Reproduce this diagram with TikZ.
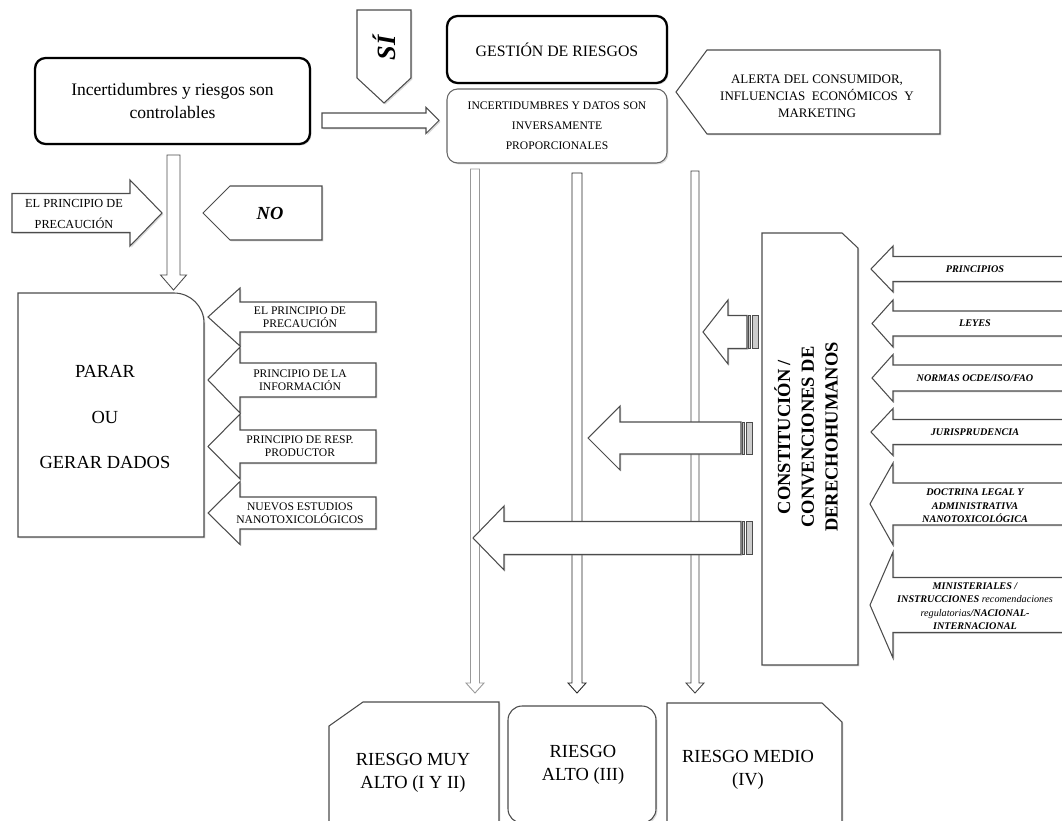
\documentclass[tikz,border=0pt]{standalone}
\usepackage{fontspec}
\setmainfont{Liberation Serif}
\usetikzlibrary{shadows}
\newcommand{\blockarrowh}[6]{% tip x, mid y, head base x, tail x, half shaft, half head
  \draw[shp] (#1,#2) -- (#3,#2-#6) -- (#3,#2-#5) -- (#4,#2-#5) -- (#4,#2+#5) -- (#3,#2+#5) -- (#3,#2+#6) -- cycle;}
\newcommand{\blockarrowv}[7]{% tip y, mid x, head base y, tail y, half shaft, half head, colour
  \draw[draw=#7,fill=white,line width=0.5pt] (#2,#1) -- (#2-#6,#3) -- (#2-#5,#3) -- (#2-#5,#4) -- (#2+#5,#4) -- (#2+#5,#3) -- (#2+#6,#3) -- cycle;}
\newcommand{\tailbars}[3]{% x, mid y, half shaft
  \draw[black!70,fill=black!20] (#1+1,#2-#3) rectangle (#1+3,#2+#3);
  \draw[black!70,fill=black!20] (#1+5,#2-#3) rectangle (#1+11,#2+#3);}

\begin{document}
\begin{tikzpicture}[x=0.02cm,y=-0.02cm,
  shp/.style={draw=black!70,fill=white,line width=0.6pt,
    drop shadow={shadow xshift=0.8pt,shadow yshift=-0.8pt,opacity=0.3,fill=black!50}},
  box/.style={shp,rounded corners=6pt,align=center,inner sep=2pt},
  txt/.style={align=center,inner sep=0pt},
  stxt/.style={txt,font=\fontsize{6.6}{7.6}\selectfont},
  rtxt/.style={txt,font=\fontsize{5.8}{7.6}\selectfont\bfseries\itshape},
  rsk/.style={txt,font=\fontsize{10.5}{13}\selectfont}]
  \useasboundingbox (0,0) rectangle (1062,821);
  \clip (0,0) rectangle (1062,821);

  \node[box,draw=black,line width=1.3pt,minimum width=5.5cm,minimum height=1.72cm,
    font=\fontsize{10}{13}\selectfont] (ctrl) at (172.5,101) {Incertidumbres y riesgos son\\controlables};
  \node[box,draw=black,line width=1.3pt,minimum width=4.4cm,minimum height=1.34cm,
    font=\fontsize{9}{11}\selectfont] (gest) at (557,49.5) {GESTIÓN DE RIESGOS};
  \node[box,draw=black!60,minimum width=4.4cm,minimum height=1.48cm,
    font=\fontsize{6.6}{11.5}\selectfont] (inv) at (557,126) {INCERTIDUMBRES Y DATOS SON\\INVERSAMENTE\\PROPORCIONALES};

  \draw[shp] (357,10) -- (411,10) -- (411,78) -- (384,103) -- (357,78) -- cycle;
  \node[txt,rotate=90,font=\fontsize{15}{15}\selectfont\bfseries\itshape] (si) at (384,48) {SÍ};
  \blockarrowh{439}{120.5}{426}{322}{7.5}{13}

  \draw[shp] (676,92) -- (707,50) -- (940,50) -- (940,134) -- (707,134) -- cycle;
  \node[txt,font=\fontsize{7.4}{9.8}\selectfont] (alerta) at (817,96) {ALERTA DEL CONSUMIDOR,\\INFLUENCIAS~~ECONÓMICOS~ Y\\MARKETING};

  \blockarrowv{290}{173.5}{275}{155}{6.5}{13}{black!70}
  \blockarrowh{162}{213}{130}{12}{19.5}{33}
  \node[txt,font=\fontsize{7}{11.5}\selectfont] (prec) at (74,214) {EL PRINCIPIO DE\\PRECAUCIÓN};
  \draw[shp] (203,213) -- (230,186) -- (322,186) -- (322,240) -- (230,240) -- cycle;
  \node[txt,font=\fontsize{10.5}{10.5}\selectfont\bfseries\itshape] (no) at (270,213) {NO};

  \draw[shp] (18,537) -- (18,293) -- (174,293) arc[start angle=90,end angle=0,radius=0.6cm] -- (204,537) -- cycle;
  \node[txt,font=\fontsize{10.5}{26}\selectfont] (parar) at (105,417) {PARAR\\OU\\GERAR DADOS};

  \blockarrowh{208}{317}{240}{376}{15}{29}
  \blockarrowh{208}{380}{240}{376}{17}{33}
  \blockarrowh{208}{446.5}{240}{376}{16.5}{32.5}
  \blockarrowh{208}{513}{240}{376}{16}{31.5}
  \node[stxt] (p1) at (300,317) {EL PRINCIPIO DE\\PRECAUCIÓN};
  \node[stxt] (p2) at (300,380) {PRINCIPIO DE LA\\INFORMACIÓN};
  \node[stxt] (p3) at (300,446.5) {PRINCIPIO DE RESP.\\PRODUCTOR};
  \node[stxt] (p4) at (300,513) {NUEVOS ESTUDIOS\\NANOTOXICOLÓGICOS};

  \blockarrowv{693}{475}{683}{169}{4.5}{9}{black!40}
  \blockarrowv{693}{577}{683}{173}{5}{9}{black!85}
  \blockarrowv{693}{695}{683}{171}{4}{9}{black!75}

  \blockarrowh{703}{332}{728}{747}{16.5}{32}
  \tailbars{747}{332}{16.5}
  \blockarrowh{588}{438}{620}{741}{16}{32}
  \tailbars{741}{438}{16}
  \blockarrowh{473}{538}{504}{741}{16.5}{32}
  \tailbars{741}{538}{16.5}

  \draw[shp] (762,233) -- (842,233) -- (858,248) -- (858,665) -- (762,665) -- cycle;
  \node[txt,rotate=90,font=\fontsize{10.5}{13.5}\selectfont\bfseries] (const) at (806,437) {CONSTITUCIÓN /\\CONVENCIONES DE\\DERECHOHUMANOS};

  \blockarrowh{871}{269}{893}{1080}{12.5}{23}
  \blockarrowh{872}{323.5}{893}{1080}{12.5}{23.5}
  \blockarrowh{872}{378}{893}{1080}{13}{23.5}
  \blockarrowh{871}{432}{893}{1080}{12.5}{23.5}
  \blockarrowh{870}{504}{893}{1080}{21}{41}
  \blockarrowh{870}{605}{893}{1080}{27.5}{53}
  \node[rtxt] (r1) at (975,269) {PRINCIPIOS};
  \node[rtxt] (r2) at (975,323.5) {LEYES};
  \node[rtxt] (r3) at (975,378) {NORMAS OCDE/ISO/FAO};
  \node[rtxt] (r4) at (975,432) {JURISPRUDENCIA};
  \node[rtxt] (r5) at (975,506) {DOCTRINA LEGAL Y\\ADMINISTRATIVA\\NANOTOXICOLÓGICA};
  \node[rtxt] (r6) at (975,606) {MINISTERIALES /\\INSTRUCCIONES {\mdseries recomendaciones}\\{\mdseries regulatorias}/NACIONAL-\\INTERNACIONAL};

  \draw[shp] (329,840) -- (329,726) -- (363,702) -- (499,702) -- (499,840) -- cycle;
  \node[rsk] (muy) at (413,773) {RIESGO MUY\\ALTO (I Y II)};
  \node[box,rounded corners=8pt,minimum width=2.96cm,minimum height=2.34cm] (alto) at (582,764.5) {};
  \node[rsk] (altotxt) at (583,765) {RIESGO\\ALTO (III)};
  \draw[shp] (667,840) -- (667,703) -- (822,703) -- (842,722) -- (842,840) -- cycle;
  \node[rsk] (medio) at (748,770) {RIESGO MEDIO\\(IV)};
\end{tikzpicture}
\end{document}
